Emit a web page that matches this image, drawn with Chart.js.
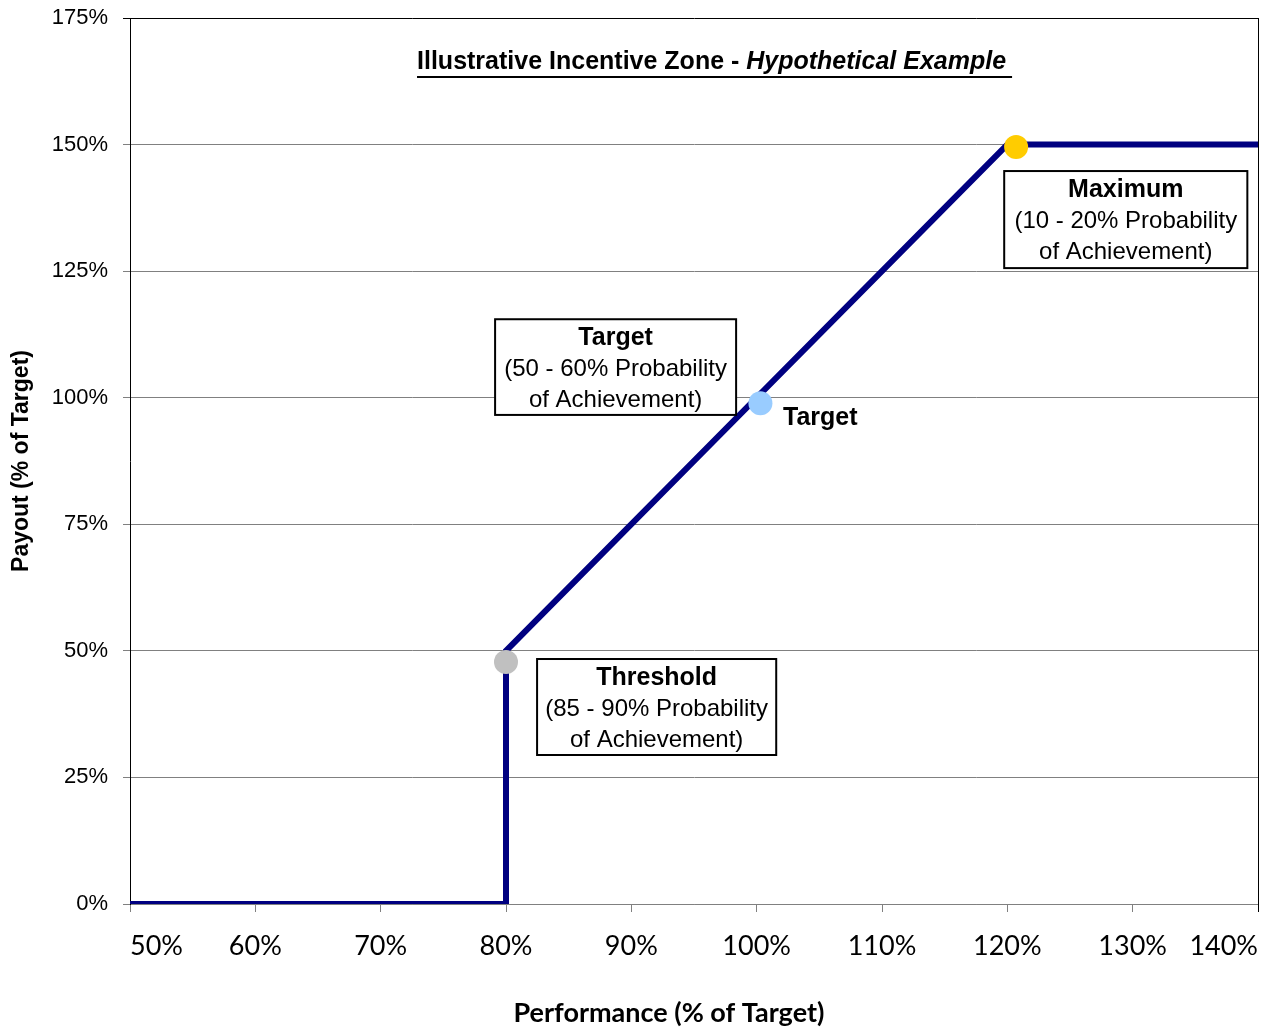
<!DOCTYPE html>
<html>
<head>
<meta charset="utf-8">
<title>Illustrative Incentive Zone</title>
<script src="https://cdn.jsdelivr.net/npm/chart.js@4/dist/chart.umd.min.js"></script>
<style>
  html, body { margin: 0; padding: 0; background: #ffffff; }
  #wrap { width: 1286px; height: 1027px; position: relative; }
</style>
</head>
<body>
<div id="wrap"><canvas id="chart" width="1286" height="1027"></canvas></div>
<script>
// Payout curve: performance (% of target) vs payout (% of target)
const curvePerformance = [50, 80, 80, 100, 120, 140];
const curvePayout      = [0, 0, 50, 100, 150, 150];

// Threshold / target / maximum markers
const markerNames       = ['Threshold', 'Target', 'Maximum'];
const markerPerformance = [80, 100.3, 120.7];
const markerPayout      = [47.8, 98.9, 149.5];
const markerColors      = ['#c0c0c0', '#99ccff', '#ffcc00'];

// Axis ticks
const xTickValues = [50, 60, 70, 80, 90, 100, 110, 120, 130, 140];
const yTickValues = [0, 25, 50, 75, 100, 125, 150, 175];

// Callout text
const calloutTitles = ['Threshold', 'Target', 'Maximum'];
const calloutLines = [
  ['(85 - 90% Probability', 'of Achievement)'],
  ['(50 - 60% Probability', 'of Achievement)'],
  ['(10 - 20% Probability', 'of Achievement)']
];
const chartTitlePlain = 'Illustrative Incentive Zone - ';
const chartTitleItalic = 'Hypothetical Example';
const targetPointLabel = 'Target';
const xAxisTitle = 'Performance (% of Target)';
const yAxisTitle = 'Payout (% of Target)';

const curveData = curvePerformance.map((x, i) => ({ x: x, y: curvePayout[i] }));
const markerData = markerPerformance.map((x, i) => ({ x: x, y: markerPayout[i] }));

// Callout boxes, placed in data units (left, right, top, bottom)
const calloutBoxes = [
  { x0: 82.48, x1: 101.56, y0: 48.39, y1: 29.43 },
  { x0: 79.13, x1: 98.36, y0: 115.5, y1: 96.6 },
  { x0: 119.75, x1: 139.15, y0: 144.77, y1: 125.6 }
];

const annotationPlugin = {
  id: 'zoneAnnotations',
  afterDatasetsDraw(chart) {
    const ctx = chart.ctx;
    const xs = chart.scales.x, ys = chart.scales.y;
    const area = chart.chartArea;
    ctx.save();

    // Frame line on the right side of the plot
    ctx.strokeStyle = '#000000';
    ctx.lineWidth = 1;
    ctx.beginPath();
    ctx.moveTo(Math.round(area.right) + 0.5, area.top);
    ctx.lineTo(Math.round(area.right) + 0.5, area.bottom + 8);
    ctx.stroke();

    // Title, bold with italic tail, underlined
    const tx = xs.getPixelForValue(96.4);
    const ty = ys.getPixelForValue(166.3);
    const fPlain = 'bold 25px "Liberation Sans Narrow", "Liberation Sans", Arial, sans-serif';
    const fItal = 'italic bold 25px "Liberation Sans Narrow", "Liberation Sans", Arial, sans-serif';
    ctx.font = fPlain;
    const w1 = ctx.measureText(chartTitlePlain).width;
    ctx.font = fItal;
    const w2 = ctx.measureText(chartTitleItalic).width;
    const startX = tx - (w1 + w2) / 2;
    ctx.fillStyle = '#000000';
    ctx.textBaseline = 'middle';
    ctx.textAlign = 'left';
    ctx.font = fPlain;
    ctx.fillText(chartTitlePlain, startX, ty);
    ctx.font = fItal;
    ctx.fillText(chartTitleItalic, startX + w1, ty);
    ctx.lineWidth = 2;
    ctx.beginPath();
    ctx.moveTo(startX, ty + 15);
    ctx.lineTo(startX + w1 + w2 + 6, ty + 15);
    ctx.stroke();

    // Callout boxes
    calloutBoxes.forEach((b, i) => {
      const l = xs.getPixelForValue(b.x0), r = xs.getPixelForValue(b.x1);
      const t = ys.getPixelForValue(b.y0), btm = ys.getPixelForValue(b.y1);
      ctx.fillStyle = '#ffffff';
      ctx.fillRect(l, t, r - l, btm - t);
      ctx.strokeStyle = '#000000';
      ctx.lineWidth = 2;
      ctx.strokeRect(l, t, r - l, btm - t);
      const cx = (l + r) / 2;
      ctx.fillStyle = '#000000';
      ctx.textAlign = 'center';
      ctx.textBaseline = 'middle';
      ctx.font = 'bold 25px "Liberation Sans", Arial, sans-serif';
      ctx.fillText(calloutTitles[i], cx, t + 19);
      ctx.font = '24px "Liberation Sans", Arial, sans-serif';
      calloutLines[i].forEach((line, k) => {
        ctx.fillText(line, cx, t + 50 + k * 31);
      });
    });

    // Label next to the target marker
    ctx.textAlign = 'left';
    ctx.textBaseline = 'middle';
    ctx.font = 'bold 25px "Liberation Sans", Arial, sans-serif';
    ctx.fillStyle = '#000000';
    ctx.fillText(targetPointLabel, xs.getPixelForValue(102.1), ys.getPixelForValue(96.0));

    // Horizontal axis title
    ctx.textAlign = 'center';
    ctx.font = 'bold 27px Lato, "Open Sans", sans-serif';
    ctx.fillText(xAxisTitle, xs.getPixelForValue(93.0), xs.bottom - 14);

    ctx.restore();
  }
};

new Chart(document.getElementById('chart'), {
  type: 'scatter',
  data: {
    datasets: [
      {
        label: 'Markers',
        data: markerData,
        showLine: false,
        pointRadius: 12,
        pointHoverRadius: 12,
        pointBackgroundColor: markerColors,
        pointBorderWidth: 0,
        order: 0
      },
      {
        label: 'Payout',
        data: curveData,
        showLine: true,
        borderColor: '#000080',
        borderWidth: 6,
        pointRadius: 0,
        tension: 0,
        fill: false,
        order: 1
      }
    ]
  },
  options: {
    responsive: false,
    animation: false,
    events: [],
    layout: { padding: { left: 0, right: 28, top: 18, bottom: 0 } },
    plugins: {
      legend: { display: false },
      tooltip: { enabled: false },
      title: { display: false }
    },
    scales: {
      x: {
        type: 'linear',
        min: 50,
        max: 140,
        afterBuildTicks(scale) { scale.ticks = xTickValues.map(v => ({ value: v })); },
        afterFit(scale) {
          scale.height = 123;
          scale.paddingLeft = 0;
          scale.paddingRight = 0;
        },
        ticks: {
          color: '#000000',
          align: 'inner',
          padding: 18,
          maxRotation: 0,
          autoSkip: false,
          font: { family: 'Lato, "Open Sans", sans-serif', size: 27 },
          callback: v => v + '%'
        },
        grid: {
          drawOnChartArea: false,
          drawTicks: true,
          tickLength: 8,
          color: '#808080'
        },
        border: { color: '#808080', width: 1 },
        title: { display: false }
      },
      y: {
        type: 'linear',
        min: 0,
        max: 175,
        afterBuildTicks(scale) { scale.ticks = yTickValues.map(v => ({ value: v })); },
        afterFit(scale) {
          scale.width = 130;
          scale.paddingTop = 0;
          scale.paddingBottom = 0;
        },
        ticks: {
          color: '#000000',
          padding: 15,
          font: { family: '"Liberation Sans", Arial, sans-serif', size: 22 },
          callback: v => v + '%'
        },
        grid: {
          drawTicks: true,
          tickLength: 7,
          color: ctx => (ctx.tick && ctx.tick.value === 175 ? '#000000' : '#808080'),
          lineWidth: 1
        },
        border: { color: '#000000', width: 1 },
        title: {
          display: true,
          text: yAxisTitle,
          color: '#000000',
          font: { family: '"Liberation Sans", Arial, sans-serif', size: 23, weight: 'bold' },
          padding: { top: 8, bottom: 0 }
        }
      }
    }
  },
  plugins: [annotationPlugin]
});
</script>
</body>
</html>
